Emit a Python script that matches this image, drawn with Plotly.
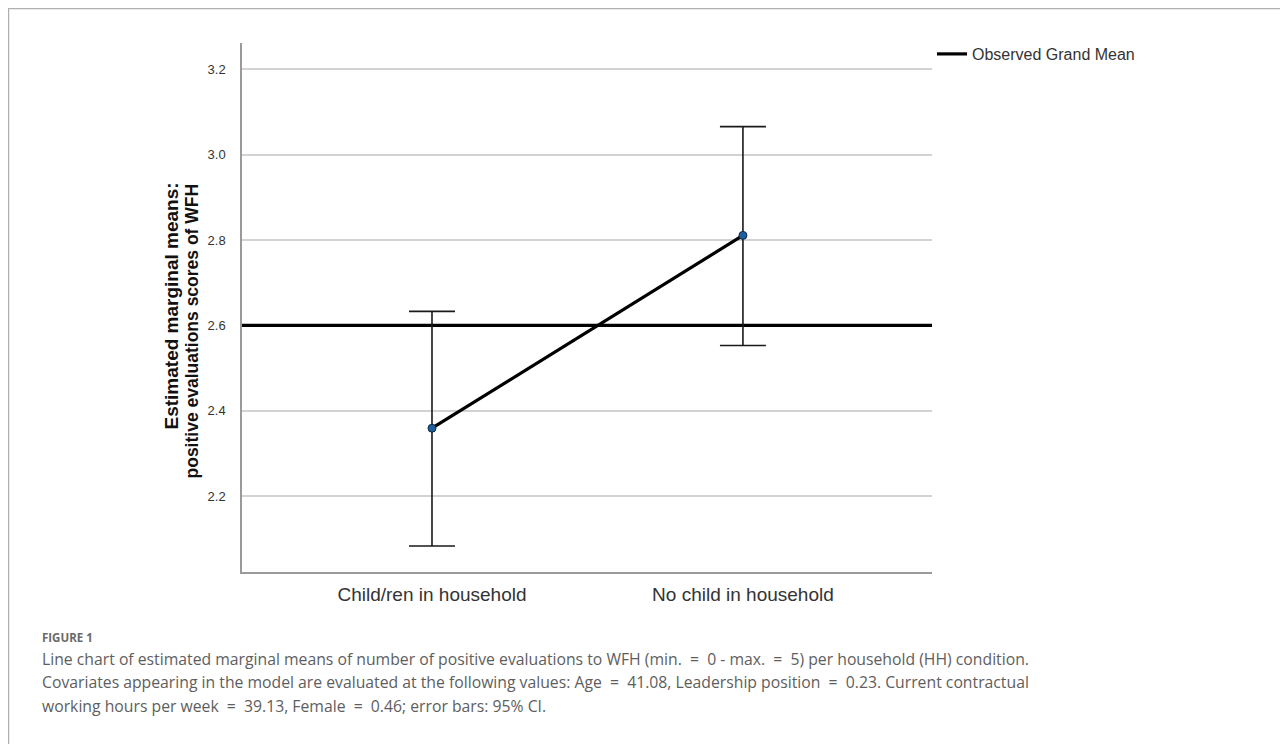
import plotly.graph_objects as go

# ---- data ----
categories = ["Child/ren in household", "No child in household"]
means = [2.359, 2.811]
ci_upper = [2.633, 3.066]
ci_lower = [2.083, 2.553]
grand_mean = 2.600
y_ticks = [2.2, 2.4, 2.6, 2.8, 3.0, 3.2]
y_tick_labels = ["2.2", "2.4", "2.6", "2.8", "3.0", "3.2"]

OFF = 8  # page body margin added by the browser
W, H = 1288 - OFF, 744 - OFF
# plot area in screen px (reference coordinates)
SL, SR, ST, SB = 242, 932, 43, 572
L, R, T, B = SL - OFF, SR - OFF, ST - OFF, SB - OFF
x_range = [-0.611, 1.608]
y_range = [2.022, 3.262]

def px_x(p):  # screen px -> paper
    return (p - OFF - L) / (R - L)

def px_y(p):
    return (B - (p - OFF)) / (B - T)

xs = list(range(len(categories)))
err_plus = [u - m for u, m in zip(ci_upper, means)]
err_minus = [m - l for m, l in zip(means, ci_lower)]

fig = go.Figure()

fig.add_trace(go.Scatter(
    x=x_range, y=[grand_mean, grand_mean], mode="lines",
    line=dict(color="black", width=3.2),
    name="Observed Grand Mean", showlegend=True, hoverinfo="skip",
))

fig.add_trace(go.Scatter(
    x=xs, y=means, mode="lines+markers",
    line=dict(color="black", width=3.2),
    marker=dict(size=8, color="#1f5f9e", line=dict(color="#0d2a45", width=1)),
    error_y=dict(type="data", symmetric=False, array=err_plus, arrayminus=err_minus,
                 color="#1a1a1a", thickness=1.6, width=23),
    showlegend=False,
))

axis_font = "Liberation Sans Narrow, Arial Narrow, Liberation Sans, Arial, sans-serif"

fig.update_layout(
    width=W, height=H,
    margin=dict(l=L, r=W - R, t=T, b=H - B, autoexpand=False),
    paper_bgcolor="white", plot_bgcolor="white",
    showlegend=True,
    legend=dict(x=1.0, xanchor="left", y=1.0 + 6 / (B - T), yanchor="top",
                font=dict(family="Liberation Sans, Arial, sans-serif", size=16, color="#333"),
                itemwidth=30, bgcolor="rgba(0,0,0,0)", borderwidth=0),
    xaxis=dict(range=x_range, tickmode="array", tickvals=xs, ticktext=categories,
               showgrid=False, zeroline=False, showline=True, linecolor="#9a9a9a",
               linewidth=1.5, ticks="outside", ticklen=4, tickcolor="rgba(0,0,0,0)",
               tickfont=dict(family="Liberation Sans, Arial, sans-serif", size=19, color="#333")),
    yaxis=dict(range=y_range, tickmode="array", tickvals=y_ticks, ticktext=y_tick_labels,
               showgrid=True, gridcolor="#d2d2d2", gridwidth=1.5, zeroline=False,
               showline=True, linecolor="#9a9a9a", linewidth=1.5,
               ticks="outside", ticklen=12, tickcolor="rgba(0,0,0,0)",
               tickfont=dict(family=axis_font, size=13, color="#333")),
)

annotations = [
    dict(text="<b>Estimated marginal means:</b>",
         xref="paper", yref="paper", x=px_x(171), y=px_y(181), textangle=-90,
         showarrow=False, xanchor="center", yanchor="top",
         font=dict(family=axis_font, size=19, color="#111")),
    dict(text="<b>positive evaluations scores of WFH</b>",
         xref="paper", yref="paper", x=px_x(191), y=px_y(182), textangle=-90,
         showarrow=False, xanchor="center", yanchor="top",
         font=dict(family=axis_font, size=17.5, color="#111")),
    dict(text="<b>FIGURE 1</b>", xref="paper", yref="paper", x=px_x(40), y=px_y(637),
         xanchor="left", yanchor="middle", showarrow=False,
         font=dict(family="Open Sans, sans-serif", size=11.5, color="#6a6a6a")),
]
caption_lines = [
    "Line chart of estimated marginal means of number of positive evaluations to WFH (min.  =  0 - max.  =  5) per household (HH) condition.",
    "Covariates appearing in the model are evaluated at the following values: Age  =  41.08, Leadership position  =  0.23. Current contractual",
    "working hours per week  =  39.13, Female  =  0.46; error bars: 95% CI.",
]
for i, line in enumerate(caption_lines):
    annotations.append(dict(
        text=line, xref="paper", yref="paper", x=px_x(40), y=px_y(659 + 23.5 * i),
        xanchor="left", yanchor="middle", showarrow=False,
        font=dict(family="Open Sans, sans-serif", size=15.75, color="#5e5e5e")))
fig.update_layout(annotations=annotations)

# figure frame (top and left border)
fig.add_shape(type="line", xref="paper", yref="paper", x0=px_x(8), x1=px_x(1288), y0=px_y(8.5), y1=px_y(8.5),
              line=dict(color="#b0b0b0", width=1.5))
fig.add_shape(type="line", xref="paper", yref="paper", x0=px_x(8.5), x1=px_x(8.5), y0=px_y(8), y1=px_y(744),
              line=dict(color="#b0b0b0", width=1.5))

fig.write_html("out.html")
